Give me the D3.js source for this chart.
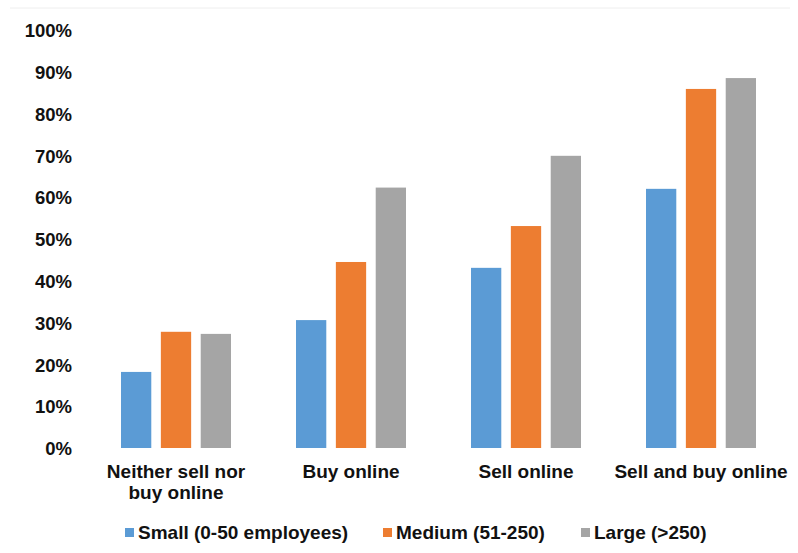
<!DOCTYPE html>
<html>
<head>
<meta charset="utf-8">
<script src="https://cdn.jsdelivr.net/npm/d3@7"></script>
<style>
  body { margin: 0; background: #fff; }
  text { font-family: "Liberation Sans", Arial, sans-serif; fill: #111; }
</style>
</head>
<body>
<script>
'use strict';

// categories and series
const categories = [["Neither sell nor", "buy online"], ["Buy online"], ["Sell online"], ["Sell and buy online"]];
const seriesNames = ["Small (0-50 employees)", "Medium (51-250)", "Large (>250)"];
const small = [18.2, 30.6, 43.1, 62.0];
const medium = [27.8, 44.5, 53.1, 85.9];
const large = [27.3, 62.3, 69.9, 88.5];
const yTicks = [0, 10, 20, 30, 40, 50, 60, 70, 80, 90, 100];
const colors = ["#5B9BD5", "#ED7D31", "#A5A5A5"];

(function() {
  const width = 798, height = 553;
  const svg = d3.select('body').append('svg')
    .attr('width', width)
    .attr('height', height);

  // faint frame line at top
  svg.append('line')
    .attr('x1', 10).attr('x2', 790)
    .attr('y1', 8).attr('y2', 8)
    .attr('stroke', '#eeeeee');

  const series = [small, medium, large];

  // scales
  const x = d3.scaleBand()
    .domain(d3.range(categories.length))
    .range([88.5, 788.5]);

  const xInner = d3.scaleBand()
    .domain(d3.range(series.length))
    .range([x.bandwidth() / 2 - 55, x.bandwidth() / 2 + 55])
    .paddingInner(0.24);

  const y = d3.scaleLinear()
    .domain([0, 100])
    .range([448, 30]);

  // y axis labels
  const yAxis = d3.axisLeft(y)
    .tickValues(yTicks)
    .tickFormat(d => d + '%')
    .tickSize(0)
    .tickPadding(0);
  const gy = svg.append('g')
    .attr('transform', 'translate(72, 0)')
    .call(yAxis);
  gy.select('.domain').remove();
  gy.selectAll('text')
    .attr('dy', '0.36em')
    .style('font-size', '18.5px')
    .style('font-weight', 'bold')
    .style('font-family', '"Liberation Sans", Arial, sans-serif')
    .attr('fill', '#111');

  // bars
  const groups = svg.selectAll('.group')
    .data(categories.map((c, i) => i))
    .enter()
    .append('g')
      .attr('class', 'group')
      .attr('transform', (d) => 'translate(' + x(d) + ',0)');

  groups.selectAll('rect')
    .data((i) => series.map((s, k) => ({ k: k, v: s[i] })))
    .enter()
    .append('rect')
      .attr('x', (d) => xInner(d.k))
      .attr('width', xInner.bandwidth())
      .attr('y', (d) => y(d.v))
      .attr('height', (d) => y(0) - y(d.v))
      .attr('fill', (d) => colors[d.k]);

  // x axis labels
  const xAxis = d3.axisBottom(x)
    .tickSize(0)
    .tickFormat('');
  const gx = svg.append('g')
    .attr('transform', 'translate(0, 448)')
    .call(xAxis);
  gx.select('.domain').remove();

  gx.selectAll('.tick')
    .each(function(d) {
      const t = d3.select(this).append('text')
        .attr('text-anchor', 'middle')
        .style('font-size', '19px')
        .style('font-weight', 'bold')
        .attr('fill', '#111');
      categories[d].forEach((line, j) => {
        t.append('tspan')
          .attr('x', 0)
          .attr('y', 30 + j * 21)
          .text(line);
      });
    });

  // legend
  const legendX = [125, 383, 581];
  const legend = svg.selectAll('.legend')
    .data(seriesNames)
    .enter()
    .append('g')
      .attr('class', 'legend')
      .attr('transform', (d, i) => 'translate(' + legendX[i] + ', 539)');

  legend.append('rect')
    .attr('x', 0)
    .attr('y', -11)
    .attr('width', 9)
    .attr('height', 9)
    .attr('fill', (d, i) => colors[i]);

  legend.append('text')
    .attr('x', 13)
    .style('font-size', '19px')
    .style('font-weight', 'bold')
    .text((d) => d);
})();
</script>
</body>
</html>
